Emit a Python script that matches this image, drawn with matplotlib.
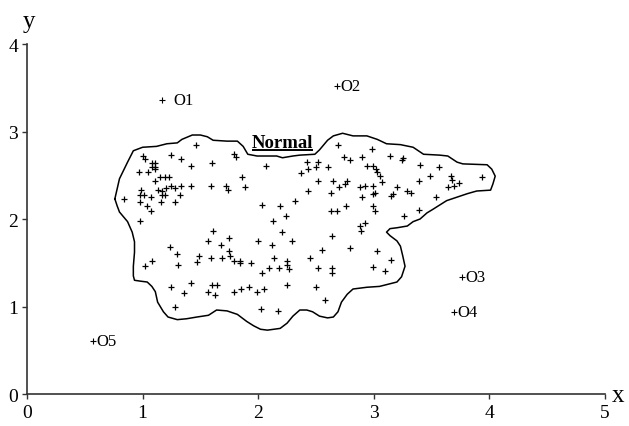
import matplotlib
matplotlib.use('Agg')
import matplotlib.pyplot as plt

plt.rcParams['font.family'] = ['Liberation Serif', 'DejaVu Serif']

# normal points (x, y)
normal_x = [1.46, 1.00, 1.02, 1.25, 1.33, 1.08, 1.11, 1.08, 1.11, 1.11, 0.97, 1.05, 1.42, 1.60,
            1.79, 1.81, 1.86, 1.15, 1.19, 1.23, 1.11, 1.25, 1.28, 1.33, 1.42, 1.59, 1.72, 1.74,
            1.13, 1.17, 1.20, 0.99, 0.98, 1.01, 1.07, 1.17, 1.19, 1.32, 0.84, 0.98, 1.16, 1.28,
            1.04, 1.07, 0.98, 1.61,
            2.69, 2.98, 2.07, 2.42, 2.43, 2.37, 2.52, 2.50, 2.60, 2.74, 2.79, 2.90, 2.94, 2.99,
            1.89, 2.52, 2.65, 2.70, 2.77, 2.75, 2.88, 2.92, 2.99, 2.63, 2.43, 2.90, 2.99, 2.32,
            2.03, 2.19, 2.24, 2.13, 2.63, 2.68, 2.76, 2.99, 2.88, 2.92, 2.89, 2.21,
            3.14, 3.24, 3.25, 3.40, 3.56, 3.02, 3.03, 3.05, 3.07, 3.39, 3.49, 3.67, 3.68, 3.64,
            3.69, 3.74, 3.94, 3.01, 3.20, 3.15, 3.17, 3.29, 3.32, 3.54, 3.01, 3.39, 3.26,
            1.57, 1.68, 1.75, 1.75, 1.76, 1.59, 1.69, 1.79, 1.84, 1.84, 1.49, 1.47, 1.24, 1.30,
            1.31, 1.02, 1.08, 1.25, 1.36, 1.42, 1.28, 1.60, 1.64, 1.57, 1.63, 1.79, 1.85,
            2.00, 2.12, 2.29, 2.64, 2.55, 2.79, 2.45, 1.94, 2.14, 2.03, 2.09, 2.18, 2.25, 2.25,
            2.27, 2.52, 2.64, 2.64, 2.99, 1.92, 1.99, 2.05, 2.25, 2.50, 2.02, 2.17, 2.58,
            3.03, 3.10, 3.15]
normal_y = [2.85, 2.72, 2.69, 2.73, 2.69, 2.64, 2.64, 2.60, 2.60, 2.57, 2.54, 2.54, 2.61, 2.64,
            2.74, 2.71, 2.48, 2.48, 2.48, 2.48, 2.43, 2.38, 2.35, 2.38, 2.38, 2.38, 2.38, 2.33,
            2.33, 2.32, 2.35, 2.33, 2.27, 2.27, 2.25, 2.27, 2.27, 2.27, 2.23, 2.19, 2.19, 2.19,
            2.15, 2.09, 1.98, 1.86,
            2.85, 2.80, 2.61, 2.65, 2.57, 2.53, 2.65, 2.59, 2.59, 2.71, 2.67, 2.71, 2.61, 2.61,
            2.37, 2.43, 2.43, 2.37, 2.43, 2.40, 2.37, 2.38, 2.38, 2.30, 2.32, 2.25, 2.29, 2.21,
            2.16, 2.15, 2.03, 1.98, 2.09, 2.09, 2.15, 2.15, 1.92, 1.95, 1.86, 1.85,
            2.72, 2.67, 2.70, 2.62, 2.59, 2.57, 2.54, 2.49, 2.42, 2.43, 2.49, 2.49, 2.45, 2.37,
            2.38, 2.41, 2.48, 2.30, 2.37, 2.26, 2.29, 2.32, 2.30, 2.25, 2.09, 2.10, 2.03,
            1.75, 1.70, 1.78, 1.63, 1.58, 1.56, 1.55, 1.52, 1.52, 1.50, 1.58, 1.51, 1.68, 1.60,
            1.47, 1.46, 1.52, 1.22, 1.15, 1.27, 0.99, 1.25, 1.25, 1.17, 1.13, 1.17, 1.20,
            1.75, 1.70, 1.75, 1.81, 1.65, 1.67, 1.55, 1.50, 1.55, 1.38, 1.44, 1.44, 1.52, 1.47,
            1.43, 1.44, 1.44, 1.38, 1.45, 1.22, 1.17, 1.20, 1.25, 1.22, 0.97, 0.95, 1.07,
            1.63, 1.41, 1.53]

# outliers
outlier_x = [1.17, 2.68, 3.76, 3.69, 0.57]
outlier_y = [3.36, 3.52, 1.34, 0.94, 0.61]
outlier_labels = ['O1', 'O2', 'O3', 'O4', 'O5']

# boundary of the normal region
boundary_x = [0.76, 0.80, 0.87, 0.92, 1.00, 1.12, 1.21, 1.30, 1.34, 1.43, 1.50, 1.56, 1.61, 1.73,
              1.82, 1.87, 1.91, 1.99, 2.08, 2.16, 2.21, 2.30, 2.36, 2.49, 2.53, 2.60, 2.65, 2.73,
              2.82, 2.94, 3.03, 3.11, 3.23, 3.34, 3.43, 3.57, 3.64, 3.72, 3.77, 3.98, 4.02, 4.05,
              4.03, 4.01, 3.89, 3.81, 3.72, 3.63, 3.57, 3.51, 3.46, 3.40, 3.34, 3.29, 3.20, 3.14,
              3.11, 3.14, 3.20, 3.23, 3.25, 3.27, 3.24, 3.20, 3.14, 3.05, 2.94, 2.82, 2.77, 2.72,
              2.69, 2.65, 2.60, 2.53, 2.47, 2.42, 2.36, 2.30, 2.25, 2.19, 2.08, 2.02, 1.96, 1.90,
              1.82, 1.73, 1.64, 1.57, 1.47, 1.38, 1.30, 1.22, 1.18, 1.13, 1.11, 1.08, 1.04, 0.98,
              0.93, 0.92, 0.92, 0.93, 0.93, 0.91, 0.87, 0.80, 0.78, 0.76]
boundary_y = [2.23, 2.46, 2.65, 2.78, 2.82, 2.83, 2.86, 2.87, 2.91, 2.96, 2.96, 2.94, 2.90, 2.89,
              2.89, 2.83, 2.74, 2.72, 2.72, 2.72, 2.70, 2.72, 2.73, 2.74, 2.79, 2.90, 2.95, 2.98,
              2.95, 2.95, 2.91, 2.86, 2.85, 2.82, 2.74, 2.73, 2.72, 2.65, 2.63, 2.62, 2.57, 2.49,
              2.40, 2.33, 2.32, 2.29, 2.25, 2.21, 2.16, 2.11, 2.07, 2.00, 1.97, 1.92, 1.90, 1.89,
              1.85, 1.81, 1.75, 1.69, 1.58, 1.46, 1.34, 1.28, 1.26, 1.23, 1.22, 1.20, 1.14, 1.05,
              0.94, 0.88, 0.87, 0.89, 0.94, 0.96, 0.96, 0.89, 0.81, 0.75, 0.73, 0.74, 0.78, 0.83,
              0.91, 0.95, 0.96, 0.90, 0.88, 0.86, 0.85, 0.88, 0.94, 1.05, 1.17, 1.23, 1.28, 1.29,
              1.30, 1.35, 1.46, 1.62, 1.74, 1.85, 1.97, 2.08, 2.15, 2.23]

fig = plt.figure(figsize=(6.29, 4.27), dpi=100)
ax = fig.add_axes([0.0429, 0.0749, 0.919, 0.8197])

ax.plot(boundary_x, boundary_y, color='black', lw=1.1)
ax.plot(normal_x, normal_y, '+', color='black', ms=5, mew=0.9)
ax.plot(outlier_x, outlier_y, '+', color='black', ms=4, mew=0.8)

for lab, x, y in zip(outlier_labels, outlier_x, outlier_y):
    dx = 8 if lab == 'O1' else 2.5
    ax.annotate(lab, (x, y), xytext=(dx, 0), textcoords='offset points',
                ha='left', va='center', fontsize=12)

txt = ax.text(2.21, 2.82, 'Normal', fontsize=13.5, fontweight='bold',
              ha='center', va='baseline')

ax.set_xlim(0, 5)
ax.set_ylim(0, 4)
ax.set_xticks([0, 1, 2, 3, 4, 5])
ax.set_yticks([0, 1, 2, 3, 4])
ax.spines['top'].set_visible(False)
ax.spines['right'].set_visible(False)
for s in ['left', 'bottom']:
    ax.spines[s].set_color('#333333')
    ax.spines[s].set_linewidth(1.2)
ax.tick_params(axis='x', direction='out', length=3.5, width=1, colors='#333333',
               labelcolor='black', labelsize=14, pad=4)
ax.tick_params(axis='y', direction='out', length=3.5, width=1, colors='#333333',
               labelcolor='black', labelsize=14, pad=3)

ax.text(0.02, 4.19, 'y', fontsize=18, ha='center', va='baseline', clip_on=False)
ax.text(5.06, -0.08, 'x', fontsize=18, ha='left', va='baseline', clip_on=False)

# underline for "Normal"
fig.canvas.draw()
bb = txt.get_window_extent().transformed(ax.transData.inverted())
ax.plot([bb.x0, bb.x1], [2.79, 2.79], color='black', lw=1.4, solid_capstyle='butt')

fig.savefig('out.png', dpi=100)
